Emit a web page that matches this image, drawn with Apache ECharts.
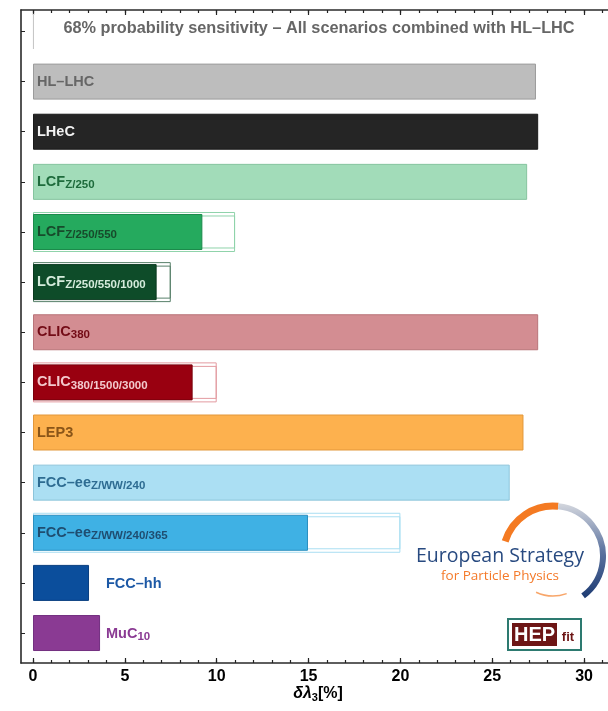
<!DOCTYPE html>
<html><head><meta charset="utf-8">
<script src="https://cdn.jsdelivr.net/npm/echarts@6/dist/echarts.min.js"></script>
<style>html,body{margin:0;padding:0;background:#fff}#c{width:608px;height:711px}</style>
</head><body><div id="c"></div>
<script>
// ---- data ----
const categories = ['title', 'HL-LHC', 'LHeC', 'LCF Z/250', 'LCF Z/250/550', 'LCF Z/250/550/1000',
  'CLIC 380', 'CLIC 380/1500/3000', 'LEP3', 'FCC-ee Z/WW/240', 'FCC-ee Z/WW/240/365', 'FCC-hh', 'MuC 10'];
const combinedValues = [0.05, 27.38, 27.5, 26.9, 9.22, 6.73, 27.5, 8.69, 26.7, 25.95, 14.97, 3.05, 3.65];
const standaloneValues = [null, null, null, null, 11.0, 7.5, null, 10.0, null, null, 20.0, null, null];
const labelMain = ['', 'HL\u2013LHC', 'LHeC', 'LCF', 'LCF', 'LCF', 'CLIC', 'CLIC', 'LEP3', 'FCC\u2013ee', 'FCC\u2013ee', 'FCC\u2013hh', 'MuC'];
const labelSub = ['', '', '', 'Z/250', 'Z/250/550', 'Z/250/550/1000', '380', '380/1500/3000', '', 'Z/WW/240', 'Z/WW/240/365', '', '10'];
const xTickLabels = [0, 5, 10, 15, 20, 25, 30];
const xMinorTicks = [0,1,2,3,4,5,6,7,8,9,10,11,12,13,14,15,16,17,18,19,20,21,22,23,24,25,26,27,28,29,30,31];
const titleText = '68% probability sensitivity \u2013 All scenarios combined with HL\u2013LHC';

// ---- styles ----
const fillColors = ['#c8c8c8', '#bdbdbd', '#252525', '#a2dcb9', '#25aa5e', '#0e4c29', '#d38d92', '#990010', '#fdb14e', '#abdff3', '#3fb1e4', '#0b4e9c', '#8a3a93'];
const borderColors = ['#c8c8c8', '#9c9c9c', '#1a1a1a', '#86c49f', '#1c8a4b', '#0a3a1f', '#b97479', '#7a000c', '#e2973a', '#8cc4da', '#2b8fc0', '#0a3f80', '#733080'];
const outlineColors = [null, null, null, null, '#8fd3aa', '#58806a', null, '#e39aa0', null, null, '#a9def2', null, null];
const labelColors = ['#000', '#666666', '#f2f2f2', '#1e6b3c', '#174a2b', '#d5ecdc', '#730b16', '#f3c9cd', '#8a5518', '#2e6c92', '#1f4d70', '#1c58a5', '#8a3a93'];

const PX = 18.37, X0 = 33, LEFT = 21, TICK = 4;
const GW = 608 - LEFT;
const XMIN = -(X0 - LEFT) / PX, XMAX = XMIN + GW / PX;
const DLEFT = LEFT + TICK, DW = 608 - DLEFT;
const DXMIN = -(X0 - DLEFT) / PX, DXMAX = DXMIN + DW / PX;
const BAND = 50.13;
const DTOP = 81.6 - 1.5 * BAND;

const rich = {
  m: {fontSize: 14.5, fontWeight: 'bold', fontFamily: 'Liberation Sans', lineHeight: 18},
  s: {fontSize: 11.5, fontWeight: 'bold', fontFamily: 'Liberation Sans', lineHeight: 11, verticalAlign: 'bottom'}
};

const combinedData = combinedValues.map((v, i) => {
  const outside = i >= 11;
  return {
    value: v,
    itemStyle: {color: fillColors[i], borderColor: borderColors[i], borderWidth: 1},
    label: {
      show: i > 0,
      position: 'insideLeft',
      distance: 4,
      offset: outside ? [69, 1] : [0, 0],
      color: labelColors[i],
      formatter: () => labelSub[i] ? '{m|' + labelMain[i] + '}{s|' + labelSub[i] + '}' : '{m|' + labelMain[i] + '}',
      rich: rich
    }
  };
});
const outlineData = standaloneValues.map((v, i) => ({
  value: v,
  itemStyle: {color: 'rgba(255,255,255,0)', borderColor: outlineColors[i] || '#fff', borderWidth: 1}
}));

const catAxis = (show) => ({
  type: 'category', gridIndex: 0, data: categories, inverse: true, position: 'left',
  axisLine: {show: false, onZero: false},
  axisTick: {show: show, inside: false, length: TICK, alignWithLabel: true, lineStyle: {color: '#222', width: 1}},
  axisLabel: {show: false}, splitLine: {show: false}
});
const frameX = (pos, values, len, labels) => ({
  type: 'value', gridIndex: 1, position: pos, min: XMIN, max: XMAX,
  axisLine: {show: labels !== null, onZero: false, lineStyle: {color: '#2a2a2a', width: 1.6}}, splitLine: {show: false},
  axisTick: {show: true, inside: true, length: len, customValues: values, lineStyle: {color: '#222', width: 1.2}},
  axisLabel: labels ? {show: true, customValues: xTickLabels, margin: 6, color: '#000', fontSize: 16, fontWeight: 'bold', fontFamily: 'Liberation Sans'} : {show: false}
});

const chart = echarts.init(document.getElementById('c'), null, {renderer: 'canvas'});
chart.setOption({
  animation: false,
  grid: [
    {left: DLEFT, top: DTOP, width: DW, height: BAND * 13},
    {left: LEFT, top: 10, width: GW, height: 653}
  ],
  xAxis: [
    {type: 'value', gridIndex: 0, min: DXMIN, max: DXMAX, show: false},
    frameX('bottom', xTickLabels, 5, true),
    frameX('bottom', xMinorTicks, 3, null),
    frameX('top', xTickLabels, 5, false),
    frameX('top', xMinorTicks, 3, null)
  ],
  yAxis: [
    catAxis(true), catAxis(false), catAxis(false),
    {type: 'value', gridIndex: 1, min: 0, max: 1, position: 'left',
      axisLine: {show: true, onZero: false, lineStyle: {color: '#2a2a2a', width: 1.6}},
      axisTick: {show: false}, axisLabel: {show: false}, splitLine: {show: false}}
  ],
  series: [
    {type: 'bar', xAxisIndex: 0, yAxisIndex: 1, barWidth: 40, data: outlineData, silent: true},
    {type: 'bar', xAxisIndex: 0, yAxisIndex: 2, barWidth: 33, data: outlineData, silent: true},
    {type: 'bar', xAxisIndex: 0, yAxisIndex: 0, barWidth: 36, data: combinedData}
  ],
  graphic: [
    {type: 'text', x: 319, y: 29, style: {text: titleText, textAlign: 'center', textVerticalAlign: 'middle', font: 'bold 16.3px "Liberation Sans"', fill: '#666'}},
    {type: 'text', x: 318, y: 694, style: {
      text: '{a|\u03b4\u03bb}{b|3}{c|[%]}', textAlign: 'center', textVerticalAlign: 'middle',
      rich: {
        a: {font: 'italic bold 16px "Liberation Sans"', fill: '#000', lineHeight: 18},
        b: {font: 'bold 11px "Liberation Sans"', fill: '#000', lineHeight: 10, verticalAlign: 'bottom'},
        c: {font: 'bold 16px "Liberation Sans"', fill: '#000', lineHeight: 18}
      }
    }},
    // European Strategy logo
    {type: 'arc', shape: {cx: 553, cy: 556, r: 50, startAngle: 197 * Math.PI / 180, endAngle: 276 * Math.PI / 180, clockwise: true},
      style: {stroke: '#f47a22', lineWidth: 7, fill: null}},
    {type: 'arc', shape: {cx: 553, cy: 556, r: 50, startAngle: 276 * Math.PI / 180, endAngle: 413 * Math.PI / 180, clockwise: true},
      style: {stroke: new echarts.graphic.LinearGradient(0, 0, 0, 1, [{offset: 0, color: '#d4d7de'}, {offset: 0.5, color: '#5d74a0'}, {offset: 1, color: '#1c3a72'}]), lineWidth: 6, fill: null}},
    {type: 'arc', shape: {cx: 553, cy: 556, r: 40, startAngle: 70 * Math.PI / 180, endAngle: 115 * Math.PI / 180, clockwise: true},
      style: {stroke: '#f8a66a', lineWidth: 1.5, fill: null}},
    {type: 'text', x: 416, y: 556, style: {text: 'European Strategy', textAlign: 'left', textVerticalAlign: 'middle', font: '19.5px "Open Sans"', fill: '#284a80'}},
    {type: 'text', x: 441, y: 576, style: {text: 'for Particle Physics', textAlign: 'left', textVerticalAlign: 'middle', font: '13.5px "Open Sans"', fill: '#f47a2a'}},
    // HEPfit logo
    {type: 'rect', shape: {x: 508, y: 619, width: 73, height: 31}, style: {fill: '#fff', stroke: '#2d7a70', lineWidth: 2}},
    {type: 'rect', shape: {x: 512, y: 623, width: 45, height: 23}, style: {fill: '#6d1515'}},
    {type: 'text', x: 534.5, y: 635, style: {text: 'HEP', textAlign: 'center', textVerticalAlign: 'middle', font: 'bold 20px "Liberation Sans"', fill: '#fff'}},
    {type: 'text', x: 568, y: 637, style: {text: 'fit', textAlign: 'center', textVerticalAlign: 'middle', font: 'bold 13px "Liberation Sans"', fill: '#6d1515'}}
  ]
});
</script></body></html>
